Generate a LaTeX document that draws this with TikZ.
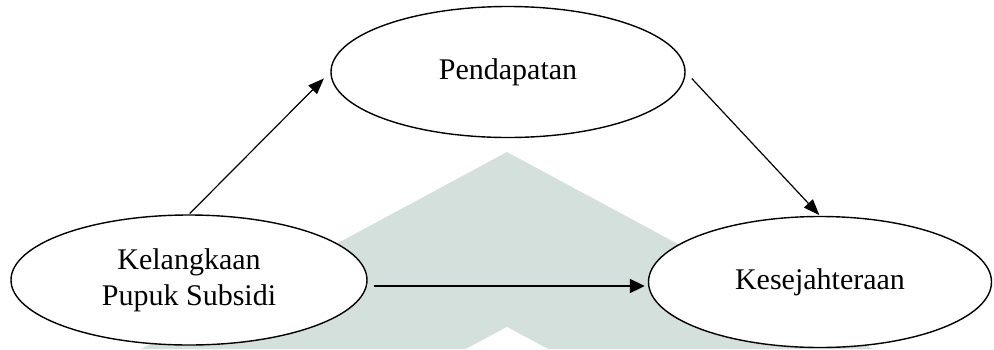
\documentclass[tikz,border=0pt]{standalone}
\usepackage{fontspec}
\setmainfont{Liberation Serif}
\usetikzlibrary{shapes.geometric,arrows.meta}
\definecolor{wm}{RGB}{212,224,220}
\tikzset{
  oval/.style={ellipse, draw=black, line width=1.4pt, fill=white, inner sep=0pt, align=center,
    font=\fontsize{30}{36}\selectfont},
  arr/.style={-{Triangle[length=16pt,width=12pt]}, line width=1.2pt},
  harr/.style={-{Triangle[length=15pt,width=14pt]}, line width=2pt}
}
\begin{document}
\begin{tikzpicture}[x=1pt,y=-1pt]
\useasboundingbox (0,0) rectangle (994,349);
% watermark
\fill[wm] (507,152) -- (873,349) -- (141,349) -- cycle;
\fill[white] (507,327) -- (548,349) -- (466,349) -- cycle;
% nodes
\node[oval, minimum width=354pt, minimum height=131pt] (p) at (508,72) {Pendapatan};
\node[oval, minimum width=356pt, minimum height=130pt] (k) at (189,280) {Kelangkaan\\Pupuk Subsidi};
\node[oval, minimum width=343pt, minimum height=131pt] (s) at (820,282) {Kesejahteraan};
\coordinate (ha) at (0,286);
% connectors
\draw[arr, shorten <=1pt, shorten >=9pt] (k.north) -- (p.west);
\draw[arr, shorten <=9pt, shorten >=1pt] (p.east) -- (s.north);
\draw[harr, shorten <=6pt, shorten >=3pt] (k.east |- ha) -- (s.west |- ha);
\end{tikzpicture}
\end{document}
